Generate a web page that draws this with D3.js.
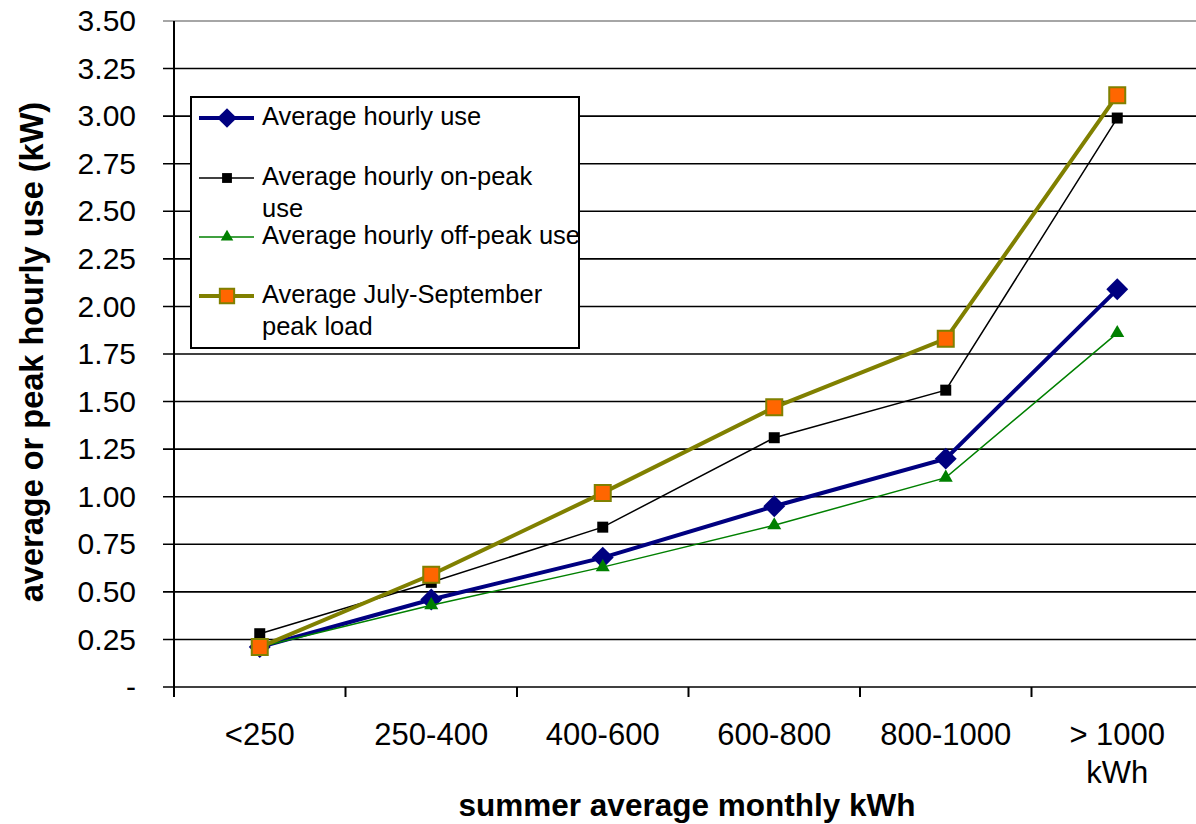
<!DOCTYPE html>
<html>
<head>
<meta charset="utf-8">
<script src="https://cdn.jsdelivr.net/npm/d3@7"></script>
<style>
  body { margin: 0; background: #fff; }
  svg text { font-family: "Liberation Sans", Arial, sans-serif; }
</style>
</head>
<body>
<div id="chart"></div>
<script>
// categories and series (kW)
const categories = ["<250", "250-400", "400-600", "600-800", "800-1000", "> 1000 kWh"];
const avgHourly = [0.21, 0.46, 0.68, 0.95, 1.20, 2.09];
const avgOnPeak = [0.28, 0.55, 0.84, 1.31, 1.56, 2.99];
const avgOffPeak = [0.21, 0.43, 0.63, 0.85, 1.10, 1.86];
const peakLoad = [0.21, 0.59, 1.02, 1.47, 1.83, 3.11];
const yTicks = [0, 0.25, 0.5, 0.75, 1, 1.25, 1.5, 1.75, 2, 2.25, 2.5, 2.75, 3, 3.25, 3.5];

const W = 1196, H = 824;
const svg = d3.select("#chart").append("svg")
    .attr("width", W)
    .attr("height", H);

const plotLeft = 174, plotRight = 1203, plotTop = 21, plotBottom = 687;

const x = d3.scaleBand().domain(categories).range([plotLeft, plotRight]);
const y = d3.scaleLinear().domain([0, 3.5]).range([plotBottom, plotTop]);
const cx = c => x(c) + x.bandwidth() / 2;

// gridlines
svg.append("g")
    .selectAll("line")
    .data(yTicks)
    .join("line")
    .attr("x1", plotLeft - 11)
    .attr("x2", W)
    .attr("y1", d => y(d))
    .attr("y2", d => y(d))
    .attr("stroke", d => d === 3.5 ? "#888" : "#000")
    .attr("stroke-width", 1.6);

// y axis
const yAxis = d3.axisLeft(y)
    .tickValues(yTicks)
    .tickSize(0)
    .tickPadding(38)
    .tickFormat(d => d === 0 ? "-" : d3.format(".2f")(d));

const gy = svg.append("g")
    .attr("transform", `translate(${plotLeft},0)`)
    .call(yAxis);
gy.select(".domain").remove();
gy.selectAll("text")
    .attr("font-size", 30)
    .attr("fill", "#000");

svg.append("line")
    .attr("x1", plotLeft).attr("x2", plotLeft)
    .attr("y1", plotTop).attr("y2", plotBottom + 10)
    .attr("stroke", "#000").attr("stroke-width", 2);

// x axis ticks (category boundaries)
const bounds = categories.map(c => x(c)).concat([plotRight]);
svg.append("g")
    .selectAll("line")
    .data(bounds.slice(1, -1))
    .join("line")
    .attr("x1", d => d).attr("x2", d => d)
    .attr("y1", plotBottom).attr("y2", plotBottom + 10)
    .attr("stroke", "#000").attr("stroke-width", 2);

// x tick labels
svg.append("g")
    .selectAll("text")
    .data(categories)
    .join("text")
    .attr("y", 745)
    .attr("text-anchor", "middle")
    .attr("font-size", 31)
    .attr("fill", "#000")
    .each(function(d) {
        const parts = d.startsWith(">") ? ["> 1000", "kWh"] : [d];
        d3.select(this).selectAll("tspan")
            .data(parts)
            .join("tspan")
            .attr("x", cx(d))
            .attr("dy", (p, i) => i === 0 ? 0 : 38)
            .text(p => p);
    });

// axis titles
svg.append("text")
    .attr("x", 687).attr("y", 816)
    .attr("text-anchor", "middle")
    .attr("font-size", 31.5)
    .attr("font-weight", "bold")
    .text("summer average monthly kWh");

svg.append("text")
    .attr("transform", "translate(43,352) rotate(-90)")
    .attr("text-anchor", "middle")
    .attr("font-size", 32.5)
    .attr("font-weight", "bold")
    .text("average or peak hourly use (kW)");

// series definitions
const series = [
    { name: ["Average hourly use"], values: avgHourly, color: "#000080", width: 4, marker: "diamond", size: 240, fill: "#000080", mstroke: "none" },
    { name: ["Average hourly on-peak", "use"], values: avgOnPeak, color: "#000", width: 1.5, marker: "square", size: 121, fill: "#000", mstroke: "none" },
    { name: ["Average hourly off-peak use"], values: avgOffPeak, color: "#008000", width: 1.5, marker: "triangle", size: 85, fill: "#008000", mstroke: "none" },
    { name: ["Average July-September", "peak load"], values: peakLoad, color: "#808000", width: 4, marker: "square", size: 256, fill: "#FF6600", mstroke: "#808000" }
];

const symbolFor = m => m === "triangle" ? d3.symbolTriangle : d3.symbolSquare;
const rot = m => m === "diamond" ? " rotate(45)" : "";

const line = d3.line()
    .x((d, i) => cx(categories[i]))
    .y(d => y(d));

series.forEach(s => {
    svg.append("path")
        .datum(s.values)
        .attr("d", line)
        .attr("fill", "none")
        .attr("stroke", s.color)
        .attr("stroke-width", s.width);
    svg.append("g")
        .selectAll("path")
        .data(s.values)
        .join("path")
        .attr("transform", (d, i) => `translate(${cx(categories[i])},${y(d)})` + rot(s.marker))
        .attr("d", d3.symbol(symbolFor(s.marker), s.size))
        .attr("fill", s.fill)
        .attr("stroke", s.mstroke)
        .attr("stroke-width", 2);
});

// legend
const lg = svg.append("g");
lg.append("rect")
    .attr("x", 191).attr("y", 97)
    .attr("width", 388).attr("height", 251)
    .attr("fill", "#fff")
    .attr("stroke", "#000")
    .attr("stroke-width", 2);

const legendY = [118, 178, 237, 296];
series.forEach((s, i) => {
    const ly = legendY[i];
    lg.append("line")
        .attr("x1", 199).attr("x2", 254)
        .attr("y1", ly).attr("y2", ly)
        .attr("stroke", s.color)
        .attr("stroke-width", s.width);
    lg.append("path")
        .attr("transform", `translate(227,${ly})` + rot(s.marker))
        .attr("d", d3.symbol(symbolFor(s.marker), s.size * 0.8))
        .attr("fill", s.fill)
        .attr("stroke", s.mstroke)
        .attr("stroke-width", 2);
    lg.append("text")
        .attr("x", 262).attr("y", ly + 7)
        .attr("font-size", 25.5)
        .attr("fill", "#000")
        .selectAll("tspan")
        .data(s.name)
        .join("tspan")
        .attr("x", 262)
        .attr("dy", (p, j) => j === 0 ? 0 : 32)
        .text(p => p);
});
</script>
</body>
</html>
